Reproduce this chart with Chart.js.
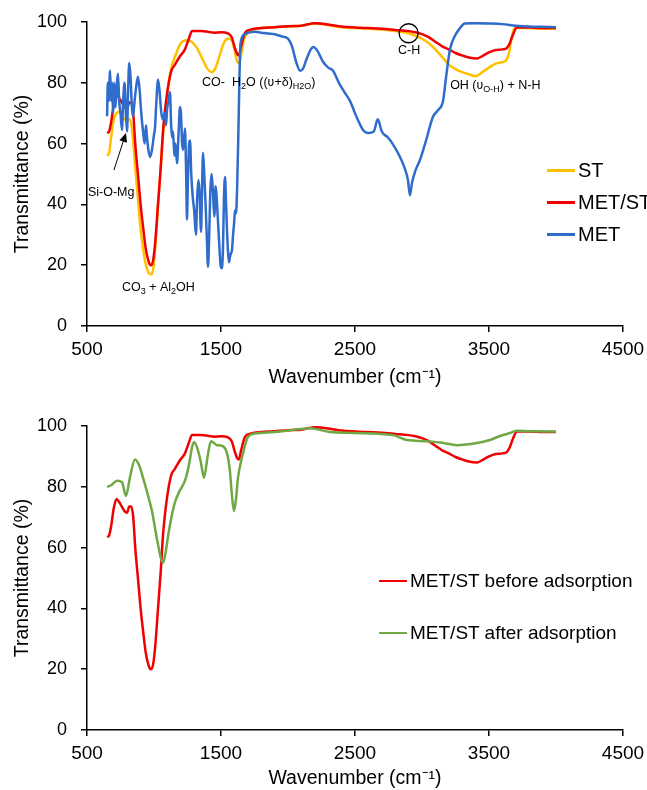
<!DOCTYPE html>
<html lang="en">
<head>
  <meta charset="UTF-8">
  <title>FTIR spectra</title>
  <script src="https://cdn.jsdelivr.net/npm/chart.js@4.4.1/dist/chart.umd.min.js"></script>
  <style>
    html, body {
      margin: 0;
      padding: 0;
      background: #fff;
      width: 647px;
      height: 790px;
      overflow: hidden;
      font-family: 'Liberation Sans', Arial, sans-serif;
    }
    .wrap { position: absolute; left: 0; width: 647px; }
    #topWrap { top: 0; height: 395px; }
    #botWrap { top: 392px; height: 398px; }
    .legend { position: absolute; white-space: nowrap; color: #000; }
    .legend .item { position: absolute; left: 0; display: flex; align-items: center; }
    .legend .swatch { display: inline-block; width: 28px; height: 2.5px; margin-right: 3px; }
  </style>
</head>
<body>

  <div class="wrap" id="topWrap"><canvas id="topChart"></canvas></div>
  <div class="wrap" id="botWrap"><canvas id="botChart"></canvas></div>
  <div class="legend" id="topLegend" style="left:547px; top:159px; font-size:20px;"></div>
  <div class="legend" id="botLegend" style="left:379px; top:570px; font-size:19px;"></div>

  <script>
    // axis ticks
    const xTicks = [500, 1500, 2500, 3500, 4500];
    const yTicks = [0, 20, 40, 60, 80, 100];

    // ST (yellow)
    const stWn = [650, 665, 680, 700, 720, 740, 760, 780, 800, 820, 840, 860, 880, 900, 920, 940, 960, 980, 995, 1010,
      1030, 1050, 1070, 1090, 1110, 1130, 1160, 1200, 1240, 1280, 1320, 1360, 1400, 1430, 1460, 1490, 1520, 1550, 1580, 1600,
      1620, 1635, 1650, 1670, 1700, 1750, 1800, 1900, 2000, 2100, 2200, 2300, 2400, 2500, 2600, 2700, 2800, 2900, 2950, 3000,
      3050, 3100, 3150, 3200, 3250, 3300, 3350, 3400, 3450, 3500, 3550, 3600, 3630, 3650, 3670, 3690, 3750, 3800, 3900, 4000];
    const stT = [56, 57, 62, 68, 70, 70.5, 69, 68, 67.5, 68, 63, 52, 42, 32, 25, 20, 17.5, 17, 19, 26,
      40, 52, 64, 73, 80, 85, 89, 93, 94, 93.5, 91.5, 88, 84.5, 83.5, 85, 89, 93, 94.5, 94, 91,
      87, 86.5, 89, 94, 96.5, 97.5, 98, 98.3, 98.5, 98.8, 99.5, 99, 98.2, 98, 97.8, 97.5, 97, 96.3, 95.5, 94.5,
      93, 91, 88.5, 86, 84.5, 83.5, 82.8, 82.2, 83.5, 85, 86.3, 86.8, 87.5, 90, 95, 98, 98, 98, 97.8, 97.8];

    // MET/ST (red) - same sample, before adsorption
    const msWn = [650, 665, 680, 700, 720, 740, 760, 780, 800, 815, 830, 845, 860, 880, 900, 920, 940, 955, 968, 980,
      995, 1010, 1030, 1050, 1067, 1090, 1110, 1130, 1157, 1190, 1231, 1260, 1284, 1350, 1400, 1450, 1500, 1550, 1580, 1600,
      1620, 1634, 1650, 1680, 1720, 1800, 1900, 2000, 2100, 2200, 2300, 2400, 2500, 2600, 2700, 2800, 2900, 2950, 3000, 3050,
      3100, 3150, 3200, 3250, 3300, 3350, 3410, 3450, 3500, 3550, 3600, 3634, 3655, 3680, 3709, 3800, 3900, 4000];
    const msT = [63.5, 64, 67, 73, 76, 75, 73.5, 72, 71.5, 73.5, 73.5, 70, 60, 50, 40, 32, 25, 22, 20.3, 20,
      22, 28, 40, 52, 64, 74, 80, 84, 86, 88.5, 91, 94.5, 97, 97, 96.8, 96.5, 96.6, 96.3, 95, 92,
      89.5, 89, 92, 96.5, 97.5, 98, 98.3, 98.6, 98.8, 99.6, 99.2, 98.5, 98.2, 98, 97.8, 97.4, 97, 96.6, 96, 95,
      93.5, 92, 91, 89.8, 89, 88.3, 88, 88.8, 90, 90.8, 91, 91.5, 93, 96, 98.2, 98.2, 98, 98];

    // MET (blue)
    const metWn = [650, 655, 662, 672, 680, 688, 695, 703, 712, 720, 731, 740, 750, 761, 770, 780, 790, 799, 806, 815,
      825, 835, 843, 855, 865, 880, 892, 905, 918, 930, 940, 948, 958, 970, 985, 1000, 1007, 1018, 1030, 1040,
      1055, 1067, 1080, 1090, 1097, 1108, 1119, 1128, 1135, 1142, 1152, 1160, 1172, 1182, 1194, 1201, 1210, 1218, 1231, 1240,
      1246, 1253, 1262, 1269, 1278, 1290, 1300, 1313, 1322, 1332, 1340, 1351, 1358, 1366, 1375, 1385, 1395, 1403, 1412, 1420,
      1430, 1440, 1450, 1460, 1468, 1478, 1488, 1497, 1507, 1515, 1522, 1530, 1538, 1546, 1553, 1560, 1568, 1575, 1582, 1590,
      1598, 1604, 1612, 1620, 1628, 1636, 1642, 1650, 1680, 1750, 1800, 1850, 1900, 1950, 2000, 2030, 2060, 2090, 2110, 2140,
      2170, 2190, 2220, 2260, 2300, 2336, 2380, 2420, 2463, 2500, 2530, 2560, 2600, 2640, 2670, 2700, 2746, 2780, 2836, 2870,
      2895, 2910, 2925, 2950, 2985, 3030, 3082, 3120, 3157, 3180, 3209, 3240, 3284, 3320, 3400, 3500, 3600, 3700, 3800, 3900, 4000];
    const metT = [69, 80, 74, 84, 74, 80, 70, 80, 72, 78, 83, 74, 70, 64.5, 74, 80, 70, 64, 76, 86.5,
      82, 72, 69, 74, 78, 82, 78, 70, 64, 60, 66, 62, 58, 55.6, 58, 63, 65, 74, 81, 78,
      70, 68, 70, 66, 71, 74, 77, 66, 62, 64, 56, 60, 53.5, 62, 72, 70, 60, 58, 65, 50,
      35, 48, 60, 61, 50, 42, 38, 30, 42, 48, 44, 31, 44, 57, 50, 40, 28, 19.5, 30, 44,
      50, 44, 36, 46, 42, 34, 26, 20, 19, 26, 42, 49, 40, 30, 24, 21, 23, 24, 25, 30,
      34, 38, 37, 45, 60, 78, 90, 94, 96, 96.8, 96.5, 96.2, 96, 95.3, 94.5, 92, 87, 84, 84.5, 88,
      91, 91.8, 90.5, 87, 85, 84, 80, 77, 74, 70, 67, 64.5, 63.5, 64, 68, 64, 62, 60, 55.6, 52,
      48, 43, 47, 51, 54.6, 61, 68.8, 71, 74, 82, 91, 95, 98, 99.5, 99.6, 99.5, 99.3, 98.8, 98.5, 98.4, 98.3];

    // MET/ST after adsorption (green)
    const afWn = [650, 680, 724, 761, 791, 820, 858, 890, 918, 950, 985, 1030, 1067, 1085, 1104, 1130, 1157, 1190, 1231, 1260,
      1284, 1299, 1328, 1350, 1373, 1400, 1425, 1470, 1507, 1545, 1567, 1580, 1597, 1612, 1627, 1664, 1701, 1754, 1900, 2090,
      2164, 2313, 2500, 2784, 2888, 3037, 3150, 3261, 3410, 3500, 3582, 3650, 3709, 3800, 4000];
    const afT = [80, 80.5, 82, 81.5, 77, 83, 89, 87, 83, 78, 72, 61, 55, 58, 63.5, 70, 75, 78.5, 82, 87,
      93, 94.7, 92, 88, 83, 90, 95, 93.7, 93.5, 91, 85, 78, 72, 76, 83, 91, 96.4, 97.5, 98, 99,
      99.3, 98, 97.7, 97, 95.4, 95, 94.5, 93.7, 94.4, 95.3, 96.7, 97.6, 98.4, 98.3, 98.2];

    const FONT = "'Liberation Sans', Arial, sans-serif";

    const notesTop = [
      { x: 507, y: 44, runs: [['Si-O-Mg']] },
      { x: 761, y: 12.8, runs: [['CO'], ['3', 1], [' + Al'], ['2', 1], ['OH']] },
      { x: 1358, y: 80, runs: [['CO-']] },
      { x: 1582, y: 80, runs: [['H'], ['2', 1], ['O ((\u028B+\u03B4)'], ['H2O', 1], [')']] },
      { x: 2821, y: 90.6, runs: [['C-H']] },
      { x: 3210, y: 79, runs: [['OH ('], ['\u028B'], ['O-H', 1], [') + N-H']] }
    ];

    function pts(xs, ys) {
      return xs.map((x, i) => ({ x: x, y: ys[i] }));
    }

    const notesPlugin = {
      id: 'notes',
      afterDatasetsDraw(chart, args, opts) {
        const list = opts.items || [];
        const ctx = chart.ctx;
        const xs = chart.scales.x, ys = chart.scales.y;
        ctx.save();
        ctx.fillStyle = '#000';
        ctx.strokeStyle = '#000';
        ctx.textBaseline = 'middle';
        ctx.textAlign = 'left';
        list.forEach(n => {
          let px = xs.getPixelForValue(n.x);
          const py = ys.getPixelForValue(n.y);
          n.runs.forEach(r => {
            ctx.font = r[1] ? '9px ' + FONT : '12.5px ' + FONT;
            ctx.fillText(r[0], px, r[1] ? py + 4 : py);
            px += ctx.measureText(r[0]).width;
          });
        });
        if (opts.circle) {
          const c = opts.circle;
          ctx.lineWidth = 1.3;
          ctx.beginPath();
          ctx.arc(xs.getPixelForValue(c.x), ys.getPixelForValue(c.y), c.r, 0, Math.PI * 2);
          ctx.stroke();
        }
        if (opts.arrow) {
          const a = opts.arrow;
          const x0 = xs.getPixelForValue(a.from[0]), y0 = ys.getPixelForValue(a.from[1]);
          const x1 = xs.getPixelForValue(a.to[0]), y1 = ys.getPixelForValue(a.to[1]);
          const ang = Math.atan2(y1 - y0, x1 - x0);
          ctx.lineWidth = 1;
          ctx.beginPath();
          ctx.moveTo(x0, y0);
          ctx.lineTo(x1 - 6 * Math.cos(ang), y1 - 6 * Math.sin(ang));
          ctx.stroke();
          ctx.beginPath();
          ctx.moveTo(x1, y1);
          ctx.lineTo(x1 - 9 * Math.cos(ang) + 4 * Math.sin(ang), y1 - 9 * Math.sin(ang) - 4 * Math.cos(ang));
          ctx.lineTo(x1 - 9 * Math.cos(ang) - 4 * Math.sin(ang), y1 - 9 * Math.sin(ang) + 4 * Math.cos(ang));
          ctx.closePath();
          ctx.fill();
        }
        ctx.restore();
      }
    };

    function line(label, data, color, order) {
      return {
        label: label,
        data: data,
        borderColor: color,
        backgroundColor: color,
        borderWidth: 2.5,
        pointRadius: 0,
        fill: false,
        order: order,
        cubicInterpolationMode: 'monotone'
      };
    }

    function axes(xHeight) {
      return {
        x: {
          type: 'linear',
          min: 500,
          max: 4500,
          afterBuildTicks: s => { s.ticks = xTicks.map(v => ({ value: v })); },
          afterFit: s => { s.height = xHeight; s.paddingLeft = 0; s.paddingRight = 0; },
          border: { color: '#000', width: 1.5 },
          grid: { drawOnChartArea: false, color: '#000', tickLength: 6, lineWidth: 1.5 },
          ticks: { color: '#000', font: { family: FONT, size: 19 }, padding: 6, maxRotation: 0, callback: v => String(v) },
          title: { display: true, text: 'Wavenumber (cm\u207B\u00B9)', color: '#000', font: { family: FONT, size: 19.5, lineHeight: 1.2 }, padding: 0 }
        },
        y: {
          min: 0,
          max: 100,
          afterBuildTicks: s => { s.ticks = yTicks.map(v => ({ value: v })); },
          afterFit: s => { s.width = 87; s.paddingTop = 0; s.paddingBottom = 0; },
          border: { color: '#000', width: 1.5 },
          grid: { drawOnChartArea: false, color: '#000', tickLength: 6, lineWidth: 1.5 },
          ticks: { color: '#000', font: { family: FONT, size: 18 }, padding: 14, callback: v => String(v) },
          title: { display: true, text: 'Transmittance (%)', color: '#000', font: { family: FONT, size: 19.5, lineHeight: 1.2 }, padding: { top: 11, bottom: 0 } }
        }
      };
    }

    function makeChart(id, w, h, pad, xHeight, datasets, notes) {
      const cv = document.getElementById(id);
      cv.width = w; cv.height = h;
      cv.style.width = w + 'px'; cv.style.height = h + 'px';
      return new Chart(cv, {
        type: 'line',
        data: { datasets: datasets },
        options: {
          responsive: false,
          animation: false,
          devicePixelRatio: 1,
          layout: { padding: pad },
          plugins: { legend: { display: false }, tooltip: { enabled: false }, notes: notes },
          scales: axes(xHeight)
        },
        plugins: [notesPlugin]
      });
    }

    function buildLegend(el, chart, gap) {
      chart.data.datasets.forEach((ds, i) => {
        const item = document.createElement('div');
        item.className = 'item';
        item.style.top = (i * gap) + 'px';
        const sw = document.createElement('span');
        sw.className = 'swatch';
        sw.style.background = ds.borderColor;
        const tx = document.createElement('span');
        tx.textContent = ds.label;
        item.appendChild(sw);
        item.appendChild(tx);
        el.appendChild(item);
      });
    }

    const topChart = makeChart('topChart', 647, 395, { top: 22, left: 0, right: 24, bottom: 6 }, 63, [
      line('ST', pts(stWn, stT), '#FFC000', 2),
      line('MET/ST', pts(msWn, msT), '#F00000', 1),
      line('MET', pts(metWn, metT), '#2F6CCB', 0)
    ], {
      items: notesTop,
      circle: { x: 2900, y: 96.3, r: 9.5 },
      arrow: { from: [701, 51.3], to: [791, 63.5] }
    });

    const botChart = makeChart('botChart', 647, 398, { top: 34, left: 0, right: 24, bottom: 0 }, 60, [
      line('MET/ST before adsorption', pts(msWn, msT), '#F00000', 1),
      line('MET/ST after adsorption', pts(afWn, afT), '#6FA845', 0)
    ], { items: [] });

    buildLegend(document.getElementById('topLegend'), topChart, 32);
    buildLegend(document.getElementById('botLegend'), botChart, 52);
  </script>

</body>
</html>
